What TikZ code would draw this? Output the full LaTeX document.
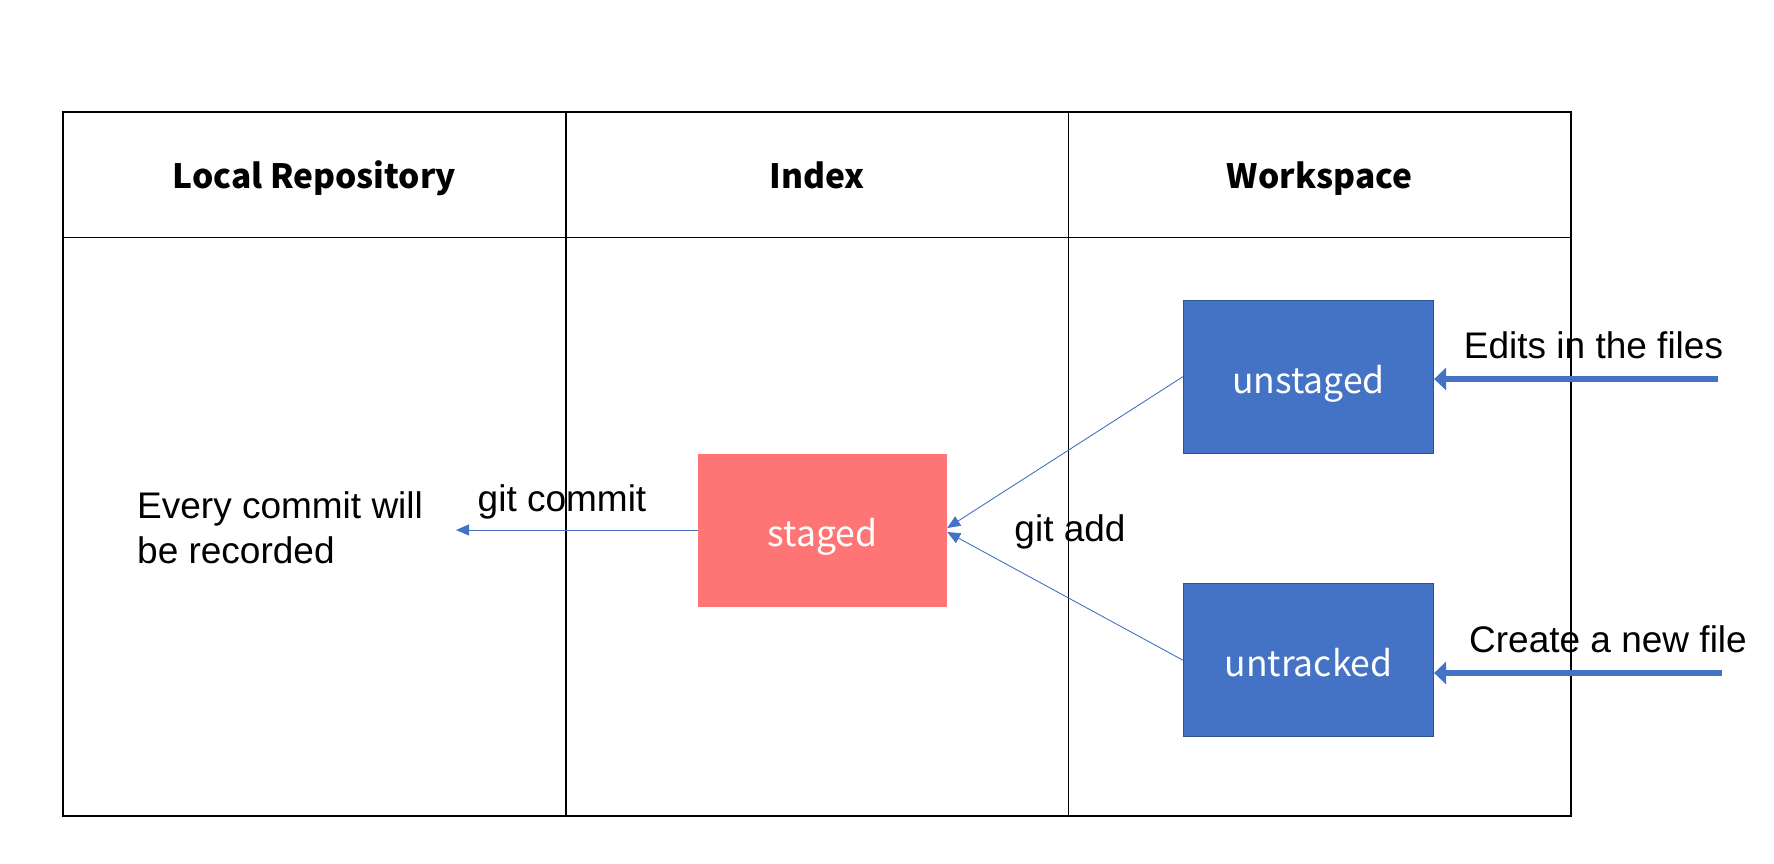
\documentclass[tikz,border=0pt]{standalone}
\usepackage{fontspec}
\setmainfont{Liberation Sans}
\newfontfamily\hdfont{Noto Sans CJK SC}
\usetikzlibrary{positioning, arrows.meta}
\definecolor{boxblue}{HTML}{4472C4}
\definecolor{boxedge}{HTML}{2F528F}
\definecolor{stagedred}{HTML}{FF7575}

\begin{document}
\begin{tikzpicture}[x=1pt, y=-1pt,
  header/.style={font=\hdfont\bfseries\fontsize{33.5}{40}\selectfont,
    text height=25.5pt, text depth=7pt},
  statebox/.style={minimum width=250pt, minimum height=153pt, text=white,
    text height=41pt, text depth=8pt, font=\hdfont\fontsize{35.5}{42}\selectfont},
  filebox/.style={statebox, fill=boxblue, draw=boxedge, line width=1.2pt},
  note/.style={font=\fontsize{37}{45}\selectfont, inner sep=0pt},
  flow/.style={boxblue, line width=0.9pt, -{Triangle[length=13pt, width=11pt]}},
  feed/.style={boxblue, line width=6pt, -{Triangle[length=12pt, width=22pt]}}]
  \useasboundingbox (0,0) rectangle (1774,864);
  % Table
  \draw[line width=1.6pt] (63,112) rectangle (1571,816);
  \draw[line width=1.6pt] (63,237.6) -- (1571,237.6);
  \foreach \x in {566,1068.5}
    \draw[line width=1.6pt] (\x,112) -- (\x,816);
  \foreach \x/\lab/\nm in {314.5/Local Repository/repo, 817/Index/index, 1319.5/Workspace/work}
    \node[header] (\nm) at (\x,179) {\lab};
  % States
  \node[statebox, minimum width=249pt, fill=stagedred] (staged) at (822.5,530) {staged};
  \node[filebox] (unstaged) at (1308.5,376.7) {unstaged};
  \node[filebox] (untracked) at (1308.5,660.2) {untracked};
  % Texts
  \node[note, anchor=west, align=left] (record) at (137,528) {Every commit will\\be recorded};
  \node[note] (commitlab) at (562,501.5) {git commit};
  \node[note] (addlab) at (1070,531.5) {git add};
  \node[note] (editlab) at (1593.5,345) {Edits in the files};
  \node[note] (createlab) at (1608,639) {Create a new file};
  \coordinate (recorded) at (456,530);
  \coordinate (edits) at (1718,379);
  \coordinate (create) at (1722,673);
  % Arrows
  \draw[flow] (staged.west) -- (recorded);
  \draw[flow] (unstaged.west) -- ([yshift=2pt]staged.east);
  \draw[flow] (untracked.west) -- ([yshift=-2pt]staged.east);
  \draw[feed] (edits) -- (edits -| unstaged.east);
  \draw[feed] (create) -- (create -| untracked.east);
\end{tikzpicture}
\end{document}
